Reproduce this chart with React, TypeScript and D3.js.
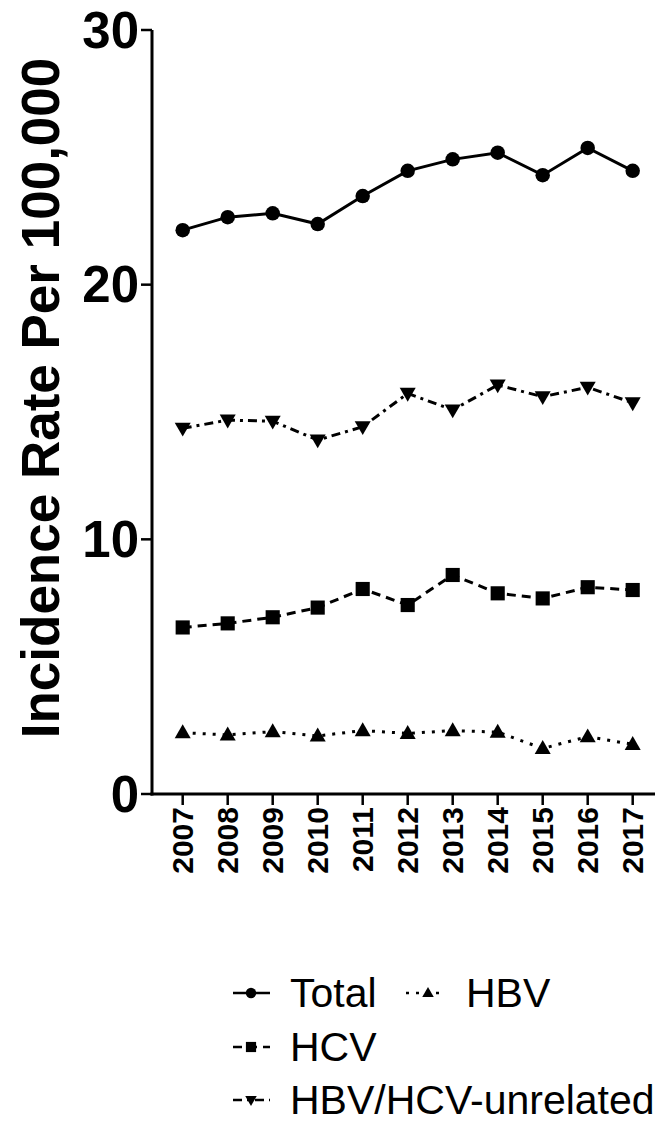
import React from "react";
import * as d3 from "d3";

const years = [2007, 2008, 2009, 2010, 2011, 2012, 2013, 2014, 2015, 2016, 2017];
const total = [22.14, 22.65, 22.8, 22.38, 23.48, 24.47, 24.92, 25.18, 24.3, 25.37, 24.47];
const hcv = [6.54, 6.7, 6.94, 7.32, 8.05, 7.42, 8.6, 7.88, 7.68, 8.12, 8.01];
const hbv = [2.41, 2.32, 2.45, 2.28, 2.49, 2.38, 2.49, 2.43, 1.79, 2.25, 1.95];
const unrelated = [14.36, 14.68, 14.64, 13.9, 14.42, 15.73, 15.08, 16.06, 15.6, 15.97, 15.36];
const yTicks = [0, 10, 20, 30];
const seriesNames = ["Total", "HBV", "HCV", "HBV/HCV-unrelated"];

const FONT = "'Liberation Sans', Arial, Helvetica, sans-serif";

type Marker = "circle" | "square" | "triUp" | "triDown";

const markerPath = (m: Marker, scale = 1): string => {
  if (m === "circle") return d3.symbol(d3.symbolCircle, 165 * scale * scale)()!;
  if (m === "square") return d3.symbol(d3.symbolSquare, 200 * scale * scale)()!;
  const s = 16 * scale;
  const h = (s * Math.sqrt(3)) / 2;
  if (m === "triUp") return `M0,${-h * 0.6}L${s / 2},${h * 0.4}L${-s / 2},${h * 0.4}Z`;
  return `M0,${h * 0.6}L${s / 2},${-h * 0.4}L${-s / 2},${-h * 0.4}Z`;
};

export default function App() {
  const W = 655;
  const H = 1126;
  const axisX = 152;
  const x = d3.scaleLinear().domain([2007, 2017]).range([182.7, 632.7]);
  const y = d3.scaleLinear().domain([0, 30]).range([794, 30]);

  const series: { name: string; values: number[]; marker: Marker; dash: string | undefined }[] = [
    { name: seriesNames[0], values: total, marker: "circle", dash: undefined },
    { name: seriesNames[2], values: hcv, marker: "square", dash: "9,6" },
    { name: seriesNames[1], values: hbv, marker: "triUp", dash: "3,7" },
    { name: seriesNames[3], values: unrelated, marker: "triDown", dash: "9,5,3,5" },
  ];

  const line = d3
    .line<number>()
    .x((_, i) => x(years[i]))
    .y((d) => y(d));

  const legend = [
    { s: series[0], lx1: 233, lx2: 270, mx: 251, ty: 993, tx: 290 },
    { s: series[2], lx1: 406, lx2: 440, mx: 428, ty: 993, tx: 466 },
    { s: series[1], lx1: 233, lx2: 270, mx: 251, ty: 1047, tx: 290 },
    { s: series[3], lx1: 233, lx2: 270, mx: 251, ty: 1100, tx: 290 },
  ];

  return (
    <svg
      width={W}
      height={H}
      style={{ position: "absolute", left: 0, top: 0, background: "#fff" }}
      fontFamily={FONT}
    >
      <rect x={0} y={0} width={W} height={H} fill="#fff" />
      {/* y axis */}
      <line x1={axisX} x2={axisX} y1={y(30)} y2={y(0) + 1.5} stroke="#000" strokeWidth={3} />
      {yTicks.map((t) => (
        <g key={t}>
          <line x1={axisX - 11} x2={axisX} y1={y(t)} y2={y(t)} stroke="#000" strokeWidth={2.5} />
          <text
            x={axisX - 13}
            y={y(t)}
            textAnchor="end"
            dominantBaseline="central"
            fontWeight="bold"
            fontSize={51}
          >
            {t}
          </text>
        </g>
      ))}
      <text
        transform={`translate(59,${(y(0) + y(30)) / 2 - 14}) rotate(-90)`}
        textAnchor="middle"
        fontWeight="bold"
        fontSize={53}
      >
        Incidence Rate Per 100,000
      </text>
      {/* x axis */}
      <line x1={axisX - 1.5} x2={W + 10} y1={y(0)} y2={y(0)} stroke="#000" strokeWidth={3} />
      {years.map((yr) => (
        <g key={yr}>
          <line x1={x(yr)} x2={x(yr)} y1={y(0)} y2={y(0) + 11} stroke="#000" strokeWidth={2.5} />
          <text
            transform={`translate(${x(yr)},${y(0) + 13}) rotate(-90)`}
            textAnchor="end"
            dominantBaseline="central"
            fontWeight="bold"
            fontSize={30}
          >
            {yr}
          </text>
        </g>
      ))}
      {/* series */}
      {series.map((s) => (
        <g key={s.name}>
          <path
            d={line(s.values)!}
            fill="none"
            stroke="#000"
            strokeWidth={3}
            strokeDasharray={s.dash}
          />
          {s.values.map((v, i) => (
            <path
              key={i}
              d={markerPath(s.marker)}
              transform={`translate(${x(years[i])},${y(v)})`}
              fill="#000"
            />
          ))}
        </g>
      ))}
      {/* legend */}
      {legend.map((l) => (
        <g key={l.s.name}>
          <line
            x1={l.lx1}
            x2={l.lx2}
            y1={l.ty}
            y2={l.ty}
            stroke="#000"
            strokeWidth={2.5}
            strokeDasharray={l.s.dash}
          />
          <path d={markerPath(l.s.marker, 0.72)} transform={`translate(${l.mx},${l.ty})`} fill="#000" />
          <text x={l.tx} y={l.ty} dominantBaseline="central" fontSize={41}>
            {l.s.name}
          </text>
        </g>
      ))}
    </svg>
  );
}
